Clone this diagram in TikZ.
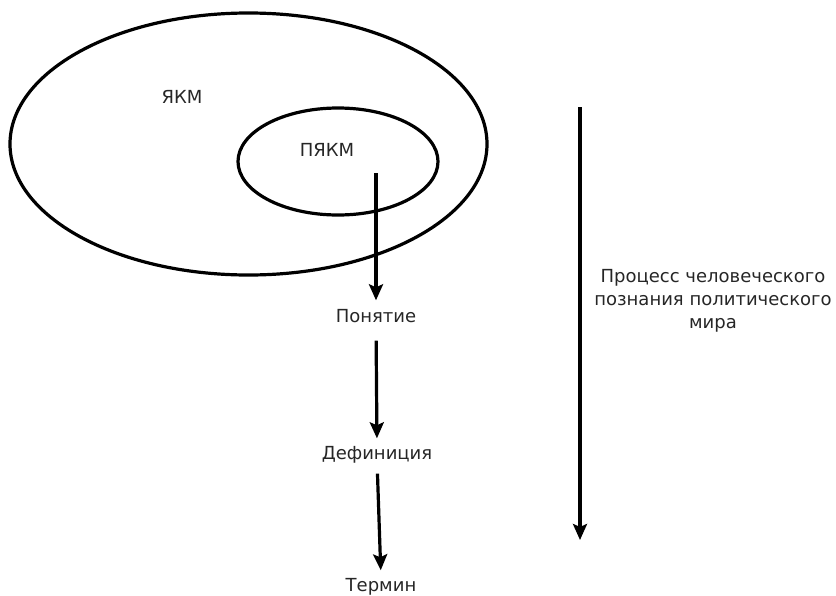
\documentclass[tikz,border=0pt]{standalone}
\usepackage{fontspec}
\setmainfont{DejaVu Sans}
\usetikzlibrary{arrows.meta}

\tikzset{
  ring/.style={line width=3.2pt},
  flow/.style={line width=3.2pt, -{Stealth[length=16pt,width=14pt,inset=3pt]}},
  word/.style={font=\fontsize{18}{23}\selectfont, text=black!85, inner sep=0pt,
    text height=13pt, text depth=0pt}
}

\begin{document}
\begin{tikzpicture}[x=1pt,y=-1pt]
\useasboundingbox (0,0) rectangle (836,595);

% pictures of the world
\draw[ring] (248.5,144) ellipse [x radius=238.5, y radius=131];
\draw[ring] (338,161.5) ellipse [x radius=100, y radius=53.5];
\node[word] (ykm) at (182,97) {ЯКМ};
\node[word] (pykm) at (327,150) {ПЯКМ};

% chain of notions
\coordinate (src) at (376,173);
\node[word] (pon) at (376,316) {Понятие};
\node[word] (def) at (377,453) {Дефиниция};
\node[word] (term) at (381,585) {Термин};

\draw[flow, shorten >=9pt] (src) -- (pon.north);
\draw[flow, shorten <=18pt, shorten >=8pt] (pon.south) -- (def.north);
\draw[flow, shorten <=14pt, shorten >=8pt] (def.south) -- (term.north);

% process
\coordinate (top) at (580,107);
\coordinate (bot) at (580,540);
\draw[flow] (top) -- (bot);
\node[word, align=center, text height=, text depth=] (proc) at (713,301)
  {Процесс человеческого\\познания политического\\мира};

\end{tikzpicture}
\end{document}
